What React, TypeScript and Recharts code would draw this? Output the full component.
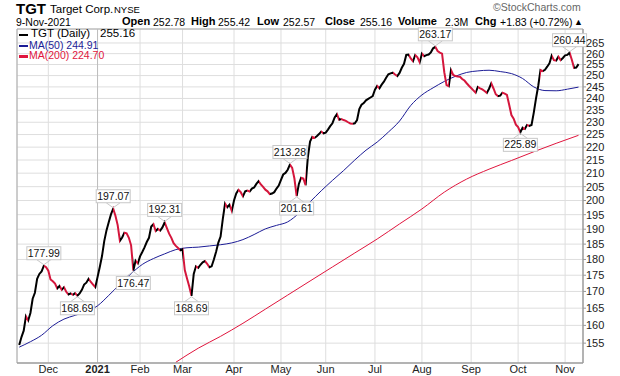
import { ComposedChart, Line, XAxis, YAxis, CartesianGrid, ReferenceDot, ReferenceLine, ReferenceArea } from 'recharts'

// daily closes, 11-Nov-2020 .. 9-Nov-2021 (trading day index = position)
const closes = [
  154.5, 156.7, 158.5, 162.6, 161.4, 163.6, 167.8, 169.6, 173.9, 175.4,
  176.2, 177.99, 177.5, 176.4, 173.7, 173.1, 172.4, 170.9, 171.7, 170.5,
  171.3, 169.9, 169.1, 169.4, 169.0, 169.5, 168.69, 169.4, 170.5, 172.1,
  172.7, 173.9, 172.9, 172.1, 171.3, 174.4, 177.6, 181.1, 186.0, 189.6,
  192.4, 195.1, 197.07, 194.6, 191.4, 186.1, 187.2, 188.8, 188.6, 187.1,
  184.6, 176.47, 179.6, 178.7, 181.0, 182.4, 183.9, 185.7, 187.1, 190.9,
  191.7, 189.4, 190.1, 189.5, 190.6, 192.31, 190.4, 188.5, 187.1, 185.3,
  184.4, 183.7, 183.0, 183.3, 176.6, 174.0, 171.5, 168.69, 175.4, 177.8,
  177.3, 178.3, 179.1, 179.5, 178.6, 177.5, 177.8, 180.0, 182.5, 185.5,
  187.5, 193.5, 198.9, 197.6, 198.5, 196.3, 200.0, 202.5, 203.8, 203.0,
  201.5, 203.3, 203.6, 203.2, 204.3, 204.7, 206.0, 207.0, 205.8, 204.9,
  203.9, 203.3, 202.3, 202.5, 203.0, 204.3, 205.4, 207.5, 209.5, 210.1,
  211.3, 213.28, 212.0, 208.0, 201.61, 206.0, 208.3, 208.0, 205.5, 216.0,
  222.2, 224.1, 223.7, 224.3, 225.2, 226.2, 225.5, 225.8, 227.0, 228.4,
  229.6, 232.0, 233.4, 231.0, 231.3, 230.9, 230.6, 230.0, 229.5, 229.4,
  229.6, 230.9, 235.5, 237.3, 238.0, 239.2, 239.8, 240.4, 241.0, 243.8,
  245.4, 244.4, 246.0, 247.3, 249.0, 250.6, 251.0, 251.3, 250.5, 249.8,
  251.2, 253.5, 255.3, 259.4, 259.6, 257.8, 256.5, 259.3, 258.3, 256.0,
  260.0, 258.8, 259.3, 259.6, 260.6, 262.5, 263.17, 261.2, 260.5, 260.0,
  251.5, 245.8, 245.3, 252.5, 250.3, 249.8, 249.6, 249.5, 248.5, 247.8,
  246.6, 245.5, 244.5, 243.5, 242.5, 245.0, 244.4, 243.9, 243.2, 242.4,
  244.2, 246.6, 244.3, 241.8, 241.0, 241.2, 242.5, 242.1, 241.5, 237.3,
  233.0, 231.5, 229.0, 228.0, 225.89, 227.8, 227.3, 228.9, 228.5, 228.9,
  234.0, 240.0, 245.5, 252.5, 252.0, 252.6, 254.0, 255.5, 259.0, 257.0,
  256.8, 258.6, 257.0, 258.0, 259.2, 259.4, 260.44, 257.2, 253.5, 253.6,
  255.16,
]

const ma50Days = [0, 5, 10, 15, 20, 25, 30, 35, 40, 45, 50, 55, 60, 65, 70, 75, 80, 85, 90, 95, 100, 105, 110, 115, 120, 125, 130, 135, 140, 145, 150, 155, 160, 165, 170, 175, 180, 185, 190, 195, 200, 205, 210, 215, 220, 225, 230, 235, 240, 245, 250]
const ma50 = [153.9, 155.4, 157.2, 159.9, 161.8, 162.9, 164.0, 165.7, 168.8, 172.2, 175.5, 178.4, 180.3, 181.8, 183.2, 183.8, 184.0, 184.4, 184.8, 185.4, 186.5, 188.2, 190.1, 191.3, 192.5, 195.5, 199.5, 203.5, 207.3, 211.0, 215.0, 218.8, 222.0, 226.0, 230.5, 237.0, 241.5, 244.6, 247.4, 249.7, 251.4, 252.1, 252.4, 251.8, 250.9, 248.7, 245.0, 243.4, 243.3, 244.0, 244.91]

const ma200Days = [70, 80, 90, 100, 110, 120, 130, 140, 150, 160, 170, 180, 190, 200, 210, 220, 230, 240, 250]
const ma200 = [149.8, 153.6, 156.9, 160.6, 164.7, 168.9, 173.2, 177.6, 182.1, 186.7, 191.8, 197.0, 203.0, 207.8, 211.5, 214.8, 218.2, 221.5, 224.7]

const monthDays = [13, 35, 54, 73, 96, 117, 137, 159, 180, 202, 223, 244]
const monthNames = ['Dec', '2021', 'Feb', 'Mar', 'Apr', 'May', 'Jun', 'Jul', 'Aug', 'Sep', 'Oct', 'Nov']
const priceTicks = [155, 160, 165, 170, 175, 180, 185, 190, 195, 200, 205, 210, 215, 220, 225, 230, 235, 240, 245, 250, 255, 260, 265]

const noteDays = [11, 26, 42, 51, 65, 77, 121, 124, 186, 224, 246]
const noteAbove = [true, false, true, false, true, false, true, false, true, false, true]

const UP = '#000000'
const DOWN = '#d4163c'
const NAVY = '#1c1c96'
const MA_RED = '#e0153d'
const FONT = '"Liberation Sans", Arial, sans-serif'

const priceData = closes.map((v, day) => ({ day, v }))
const ma50Data = ma50Days.map((day, k) => ({ day, v: ma50[k] }))
const ma200Data = ma200Days.map((day, k) => ({ day, v: ma200[k] }))
const segColors = closes.slice(1).map((c, i) => (c >= closes[i] ? UP : DOWN))
const lastIdx = closes.length - 1

function MonthTick(props: any) {
  const { x, y, payload } = props
  const k = monthDays.indexOf(payload.value)
  return (
    <text x={x} y={y + 10} textAnchor="middle" fontSize={11} fontFamily={FONT} fontWeight={k === 1 ? 700 : 400} fill="#222">
      {monthNames[k]}
    </text>
  )
}

function Note(props: any) {
  const { cx, cy, above, label } = props
  const w = 34
  const h = 13
  const edge = above ? cy - 6 : cy + 6
  const top = above ? edge - h : edge
  const tip = above ? cy - 1 : cy + 1
  return (
    <g>
      <polyline points={`${cx - 7},${edge} ${cx},${tip} ${cx + 7},${edge}`} fill="none" stroke="#c8c8c8" strokeWidth={1} />
      <rect x={cx - w / 2} y={top} width={w} height={h} fill="#fff" stroke="#c8c8c8" />
      <text x={cx} y={top + 10} textAnchor="middle" fontSize={10.5} fontFamily={FONT} fill="#111">
        {label}
      </text>
    </g>
  )
}

const abs = (left: number, top: number, size: number, bold = false, color = '#000', lh: number | string = 0.9): React.CSSProperties => ({
  position: 'absolute', left, top, fontSize: size, fontWeight: bold ? 700 : 400, color, lineHeight: lh, whiteSpace: 'nowrap',
})

export default function App() {
  return (
    <div style={{ position: 'absolute', left: 0, top: 0, width: 620, height: 376, background: '#fff', fontFamily: FONT, overflow: 'hidden' }}>
      <ComposedChart width={620} height={376} margin={{ top: 29, right: 0, bottom: 0, left: 17 }} style={{ position: 'absolute', left: 0, top: 0 }}>
        <defs>
          <linearGradient id="updown" x1="0" y1="0" x2="1" y2="0">
            {segColors.flatMap((col, i) => [
              <stop key={'a' + i} offset={i / lastIdx} stopColor={col} />,
              <stop key={'b' + i} offset={(i + 1) / lastIdx} stopColor={col} />,
            ])}
          </linearGradient>
        </defs>
        <CartesianGrid stroke="#dedede" />
        <ReferenceLine x={35} stroke="#bdbdbd" />
        <XAxis dataKey="day" type="number" domain={[-1, 252]} ticks={monthDays} allowDataOverflow
          tick={<MonthTick />} tickLine={false} tickSize={0} tickMargin={0} axisLine={{ stroke: '#999' }} height={13} interval={0} />
        <YAxis orientation="right" scale="log" domain={[149.6, 271.7]} allowDataOverflow ticks={priceTicks} interval={0}
          width={37} tickSize={3} tickMargin={0} tickLine={{ stroke: '#999' }} axisLine={{ stroke: '#999' }}
          tick={{ fontSize: 11, fill: '#222', fontFamily: FONT }} />
        <ReferenceArea x1={-1} x2={252} y1={149.6} y2={271.7} fill="none" stroke="#aaa" ifOverflow="visible" />
        <Line data={ma200Data} dataKey="v" type="monotone" stroke={MA_RED} strokeWidth={1} dot={false} isAnimationActive={false} />
        <Line data={ma50Data} dataKey="v" type="monotone" stroke={NAVY} strokeWidth={1} dot={false} isAnimationActive={false} />
        <Line data={priceData} dataKey="v" type="linear" stroke="url(#updown)" strokeWidth={2} dot={false} isAnimationActive={false} />
        {noteDays.map((d, k) => (
          <ReferenceDot key={d} x={d} y={closes[d]} ifOverflow="visible"
            shape={(p: any) => <Note cx={p.cx} cy={p.cy} above={noteAbove[k]} label={closes[d].toFixed(2)} />} />
        ))}
      </ComposedChart>

      <span style={abs(16, 2, 15, true)}>TGT</span>
      <span style={abs(50, 4, 11.5)}>Target Corp.</span>
      <span style={abs(114, 5.5, 9.5)}>NYSE</span>
      <span style={abs(493, 3, 10.5, false, '#666')}>©StockCharts.com</span>

      <span style={abs(16, 17.5, 10.5)}>9-Nov-2021</span>
      <span style={abs(122, 17, 11, true)}>Open</span>
      <span style={abs(153, 17.5, 10.5)}>252.78</span>
      <span style={abs(191, 17, 11, true)}>High</span>
      <span style={abs(218, 17.5, 10.5)}>255.42</span>
      <span style={abs(257, 17, 11, true)}>Low</span>
      <span style={abs(283, 17.5, 10.5)}>252.57</span>
      <span style={abs(325, 17, 11, true)}>Close</span>
      <span style={abs(360, 17.5, 10.5)}>255.16</span>
      <span style={abs(398, 17, 11, true)}>Volume</span>
      <span style={abs(445, 17.5, 10.5)}>2.3M</span>
      <span style={abs(475, 17, 11, true)}>Chg</span>
      <span style={abs(500, 17.5, 10.5)}>+1.83 (+0.72%)</span>
      <span style={abs(574, 18, 9)}>▲</span>

      <div style={{ position: 'absolute', left: 19, top: 33.5, width: 9, height: 2.5, background: UP }} />
      <span style={abs(31, 28.5, 11.5, false, '#000', '9px')}>TGT (Daily)</span>
      <span style={abs(100, 28.5, 11.5, false, '#000', '9px')}>255.16</span>
      <div style={{ position: 'absolute', left: 19, top: 44.5, width: 9, height: 2.5, background: NAVY }} />
      <span style={abs(29, 40.5, 10.5, false, NAVY, '8px')}>MA(50) 244.91</span>
      <div style={{ position: 'absolute', left: 19, top: 55, width: 9, height: 2.5, background: MA_RED }} />
      <span style={abs(29, 51, 10.5, false, MA_RED, '8px')}>MA(200) 224.70</span>
    </div>
  )
}
